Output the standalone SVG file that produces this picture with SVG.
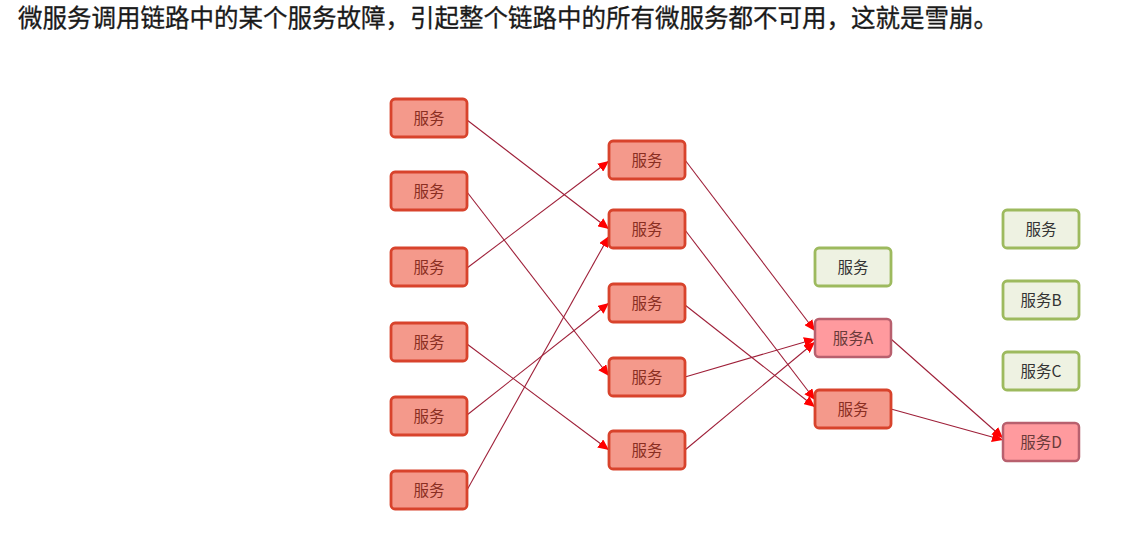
<svg xmlns="http://www.w3.org/2000/svg" width="1147" height="543" viewBox="0 0 1147 543">
<style>
.t{font-family:"Noto Sans CJK SC","Noto Sans",sans-serif;font-size:15.5px;text-anchor:middle;dominant-baseline:central}
.red rect{fill:#F4998B;stroke:#D8432C;stroke-width:2.8}
.red text{fill:#8A2E22}
.pink rect{fill:#FF9A9E;stroke:#B8606E;stroke-width:2.5}
.pink text{fill:#6A3A3A}
.green rect{fill:#EEF2E2;stroke:#9DBA5E;stroke-width:2.8}
.green text{fill:#333333}
.edges line{stroke:#9E1F38;stroke-width:1.1;fill:none;marker-end:url(#arr)}
</style>
<defs>
<marker id="arr" markerUnits="userSpaceOnUse" markerWidth="12" markerHeight="10" refX="11" refY="5" orient="auto">
<path d="M0,0 L11,5 L0,10 z" fill="#FF0000"/>
</marker>
</defs>
<rect width="1147" height="543" fill="#FFFFFF"/>
<text x="18" y="27" font-family="'Noto Sans CJK SC',sans-serif" font-size="24.5" fill="#1A1A1A" stroke="#1A1A1A" stroke-width="0.3" textLength="980" lengthAdjust="spacing">微服务调用链路中的某个服务故障，引起整个链路中的所有微服务都不可用，这就是雪崩。</text>

<g class="edges" id="connectors">
<line x1="467" y1="120" x2="609" y2="229"/>
<line x1="467" y1="192" x2="609" y2="376"/>
<line x1="467" y1="268" x2="609" y2="161"/>
<line x1="467" y1="344" x2="609" y2="450"/>
<line x1="467" y1="415" x2="609" y2="303"/>
<line x1="467" y1="490" x2="609" y2="236"/>
<line x1="685" y1="160" x2="815" y2="331"/>
<line x1="685" y1="230" x2="815" y2="400"/>
<line x1="685" y1="305" x2="815" y2="407"/>
<line x1="685" y1="377" x2="815" y2="339"/>
<line x1="685" y1="450" x2="815" y2="342"/>
<line x1="891" y1="339" x2="1003" y2="438"/>
<line x1="891" y1="409" x2="1003" y2="440"/>
</g>

<g id="L1" class="red"><rect x="391" y="99" width="76" height="38" rx="4"/><text class="t" x="429" y="117">服务</text></g>
<g id="L2" class="red"><rect x="391" y="172" width="76" height="38" rx="4"/><text class="t" x="429" y="190">服务</text></g>
<g id="L3" class="red"><rect x="391" y="248" width="76" height="38" rx="4"/><text class="t" x="429" y="266">服务</text></g>
<g id="L4" class="red"><rect x="391" y="323" width="76" height="38" rx="4"/><text class="t" x="429" y="341">服务</text></g>
<g id="L5" class="red"><rect x="391" y="397" width="76" height="38" rx="4"/><text class="t" x="429" y="415">服务</text></g>
<g id="L6" class="red"><rect x="391" y="471" width="76" height="38" rx="4"/><text class="t" x="429" y="489">服务</text></g>

<g id="M1" class="red"><rect x="609" y="141" width="76" height="38" rx="4"/><text class="t" x="647" y="159">服务</text></g>
<g id="M2" class="red"><rect x="609" y="210" width="76" height="38" rx="4"/><text class="t" x="647" y="228">服务</text></g>
<g id="M3" class="red"><rect x="609" y="284" width="76" height="38" rx="4"/><text class="t" x="647" y="302">服务</text></g>
<g id="M4" class="red"><rect x="609" y="358" width="76" height="38" rx="4"/><text class="t" x="647" y="376">服务</text></g>
<g id="M5" class="red"><rect x="609" y="431" width="76" height="38" rx="4"/><text class="t" x="647" y="449">服务</text></g>

<g id="G1" class="green"><rect x="815" y="248" width="76" height="38" rx="4"/><text class="t" x="853" y="266">服务</text></g>
<g id="A" class="pink"><rect x="815" y="319" width="76" height="38" rx="4"/><text class="t" x="853" y="337">服务A</text></g>
<g id="R" class="red"><rect x="815" y="390" width="76" height="38" rx="4"/><text class="t" x="853" y="408">服务</text></g>

<g id="G2" class="green"><rect x="1003" y="210" width="76" height="38" rx="4"/><text class="t" x="1041" y="228">服务</text></g>
<g id="B" class="green"><rect x="1003" y="281" width="76" height="38" rx="4"/><text class="t" x="1041" y="299">服务B</text></g>
<g id="C" class="green"><rect x="1003" y="352" width="76" height="38" rx="4"/><text class="t" x="1041" y="370">服务C</text></g>
<g id="D" class="pink"><rect x="1003" y="423" width="76" height="38" rx="4"/><text class="t" x="1041" y="441">服务D</text></g>
</svg>
